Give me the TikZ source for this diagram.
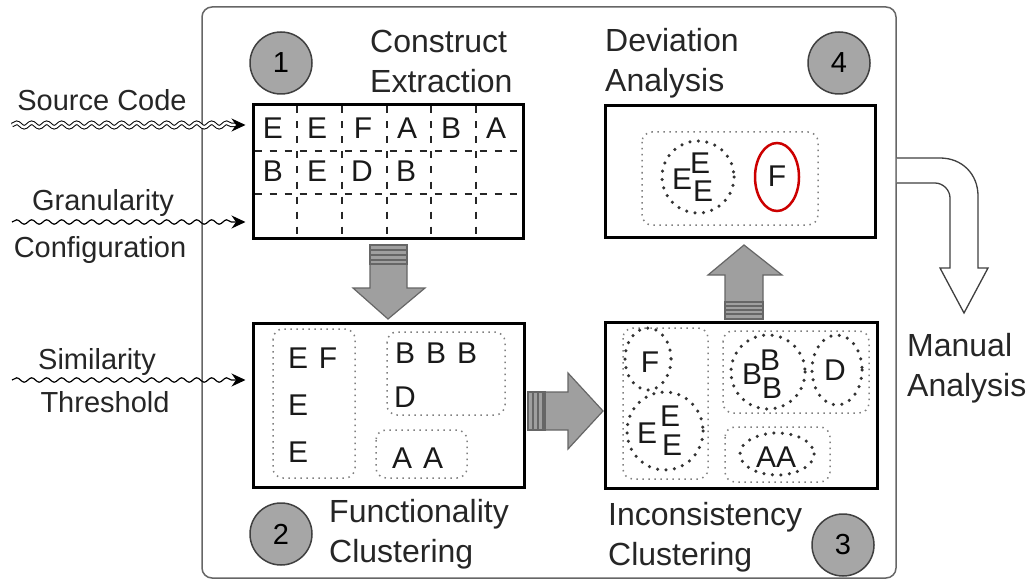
\documentclass[tikz,border=0pt]{standalone}
\usepackage{fontspec}
\setmainfont{Liberation Sans}
\usetikzlibrary{decorations.pathmorphing,arrows.meta}
\begin{document}
\begin{tikzpicture}[x=1pt,y=-1pt,
  stagebox/.style={draw=black, line width=3pt, fill=white, inner sep=0pt},
  lbl/.style={font=\fontsize{32}{40}\selectfont, align=left, anchor=west, inner sep=0pt, text=black!85},
  inlbl/.style={font=\fontsize{29}{34}\selectfont, inner sep=0pt, text=black!85},
  letter/.style={font=\fontsize{30}{32}\selectfont, inner sep=0pt, text=black!90},
  numcirc/.style={circle, draw=black!75, fill=gray!70, line width=1.5pt, minimum size=62pt, font=\fontsize{29}{30}\selectfont, inner sep=0pt},
  grp/.style={draw=gray, line width=1.5pt, rounded corners=10pt, dash pattern=on 1.5pt off 4.5pt},
  clu/.style={draw=black!80, line width=3.5pt, line cap=round, dash pattern=on 0pt off 8.5pt},
  gridl/.style={draw=black!85, line width=1.4pt, dash pattern=on 7pt off 8pt},
  wavy/.style={decorate, decoration={snake, amplitude=2.2pt, segment length=15pt, post length=14pt}, -{Stealth[length=14pt,width=13pt]}, line width=1.2pt, shorten >=6pt},
  block/.style={fill=gray!75, draw=black!60, line width=1.2pt, line join=miter},
  stripe/.style={draw=black!60, line width=2pt}
]
\useasboundingbox (0,0) rectangle (1032,580);

% outer frame
\node[draw=black!60, line width=1.5pt, rounded corners=10pt, minimum width=694pt, minimum height=571pt, inner sep=0pt] (frame) at (549,292.5) {};

% manual analysis arrow
\filldraw[fill=white, draw=black!75, line width=1.3pt] (frame.east |- 0,158) -- (940,158) .. controls (962,158) and (978,174) .. (978,196) -- (978,268) -- (988,268) -- (964,313) -- (940,268) -- (950,268) -- (950,198) .. controls (950,190) and (943,183) .. (935,183) -- (frame.east |- 0,183);
\node[lbl] (man) at (907,368) {Manual\\Analysis};

% stage boxes
\node[stagebox, minimum width=270pt, minimum height=133pt] (ce) at (388,171.5) {};
\node[stagebox, minimum width=270pt, minimum height=131pt] (da) at (740,171.5) {};
\node[stagebox, minimum width=271pt, minimum height=164pt] (fc) at (388.5,405) {};
\node[stagebox, minimum width=272pt, minimum height=166pt] (ic) at (741,405) {};

% labels
\node[lbl] (l1) at (370,61) {Construct\\Extraction};
\node[lbl] (l4) at (605,63) {Deviation\\Analysis};
\node[lbl] (l2) at (329,534) {Functionality\\Clustering};
\node[lbl] (l3) at (608,537) {Inconsistency\\Clustering};

% number circles
\node[numcirc] (n1) at (281,63) {1};
\node[numcirc] (n4) at (839,63) {4};
\node[numcirc] (n2) at (281,534) {2};
\node[numcirc] (n3) at (843,545) {3};

% grid in box 1
\foreach \x in {297,342,387,431,476} \draw[gridl] (\x,106.5) -- (\x,236.5);
\foreach \y in {151,194} \draw[gridl] (254.5,\y) -- (521.5,\y);
\foreach \x/\t in {273/E,317/E,363/F,407/A,451/B,496/A} \node[letter] at (\x,128) {\t};
\foreach \x/\t in {273/B,317/E,362/D,406/B} \node[letter] at (\x,171) {\t};

% box 2 groups
\draw[grp] (273,329) rectangle (355,478);
\draw[grp] (387,332) rectangle (505,415);
\draw[grp] (376,430) rectangle (467,478);
\node[letter] at (298,358) {E};
\node[letter] at (328,358) {F};
\node[letter] at (298,405) {E};
\node[letter] at (298,452) {E};
\foreach \x in {405,436,467} \node[letter] at (\x,353) {B};
\node[letter] at (405,397) {D};
\node[letter] at (402,458) {A};
\node[letter] at (433,458) {A};

% box 3 groups
\draw[grp] (623,328) rectangle (708,479);
\draw[grp] (723,331) rectangle (869,413);
\draw[grp] (725,427) rectangle (830,482);
\draw[clu] (648,359) ellipse [x radius=23, y radius=31];
\draw[clu] (665,431) ellipse [x radius=38, y radius=39];
\draw[clu] (768,372) ellipse [x radius=37, y radius=37];
\draw[clu] (837,370) ellipse [x radius=25, y radius=35];
\draw[clu] (777,454) ellipse [x radius=37, y radius=21];
\node[letter] at (650,362) {F};
\node[letter] at (647,433) {E};
\node[letter] at (670,416) {E};
\node[letter] at (672,445) {E};
\node[letter] at (752,374) {B};
\node[letter] at (770,360) {B};
\node[letter] at (772,388) {B};
\node[letter] at (835,370) {D};
\node[letter] at (766,457) {A};
\node[letter] at (786,457) {A};

% box 4
\draw[grp] (642,132) rectangle (818,225);
\draw[clu] (698,177) circle [radius=36];
\draw[draw=red!80!black, line width=2.5pt] (777,177) ellipse [x radius=22, y radius=34];
\node[letter] at (682,179) {E};
\node[letter] at (700,163) {E};
\node[letter] at (703,191) {E};
\node[letter] at (777,176) {F};

% block arrows
\draw[block] (370,264) -- (407,264) -- (407,288) -- (425,288) -- (388,319) -- (353,288) -- (370,288) -- cycle;
\draw[block] (370,245) rectangle (407,264);
\foreach \y in {250,255,260} \draw[stripe] (370,\y) -- (407,\y);

\draw[block] (545,392) -- (568,392) -- (568,373) -- (603,411) -- (568,449) -- (568,430) -- (545,430) -- cycle;
\draw[block] (528,392) rectangle (545,430);
\foreach \x in {533,538,543} \draw[stripe] (\x,392) -- (\x,430);

\draw[block] (725,302) -- (725,275) -- (708,275) -- (744,245) -- (782,275) -- (763,275) -- (763,302) -- cycle;
\draw[block] (725,302) rectangle (763,319);
\foreach \y in {306,310,314} \draw[stripe] (725,\y) -- (763,\y);

% inputs
\coordinate (srcA) at (12,125);
\coordinate (srcB) at (12,222);
\coordinate (srcC) at (12,380);
\draw[wavy, double, double distance=2.5pt, line width=1pt] (srcA) -- (srcA -| ce.west);
\draw[wavy] (srcB) -- (srcB -| ce.west);
\draw[wavy] (srcC) -- (srcC -| fc.west);
\node[inlbl] (t1) at (102,100) {Source Code};
\node[inlbl] (t2) at (103,203) {Granularity};
\node[inlbl] (t3) at (100,250) {Configuration};
\node[inlbl] (t4) at (97,362) {Similarity};
\node[inlbl] (t5) at (105,402) {Threshold};
\end{tikzpicture}
\end{document}
